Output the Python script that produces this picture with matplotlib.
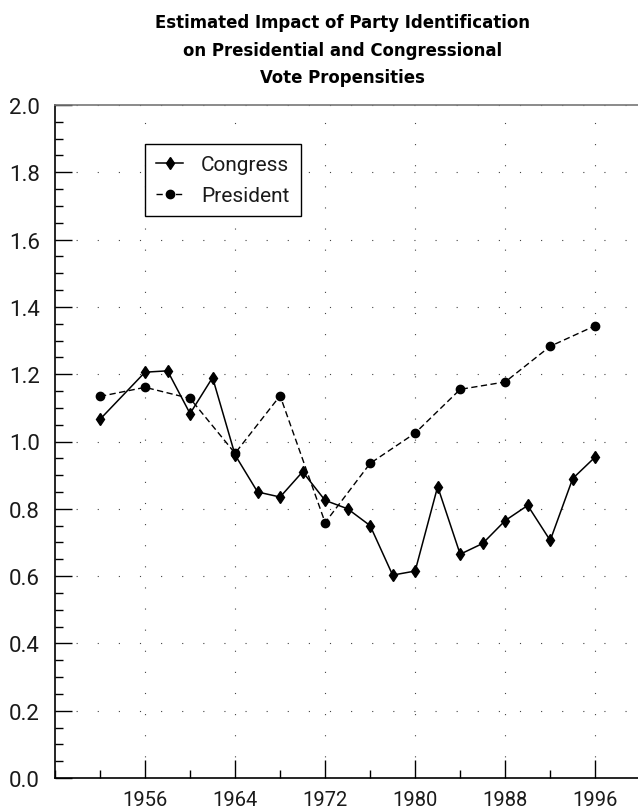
import matplotlib
matplotlib.use("Agg")
import matplotlib.pyplot as plt
from matplotlib.ticker import MultipleLocator

# Data
congress_years = [1952, 1956, 1958, 1960, 1962, 1964, 1966, 1968, 1970, 1972, 1974,
                  1976, 1978, 1980, 1982, 1984, 1986, 1988, 1990, 1992, 1994, 1996]
congress_vals = [1.066, 1.206, 1.21, 1.083, 1.19, 0.96, 0.85, 0.835, 0.91, 0.825, 0.80,
                 0.75, 0.603, 0.615, 0.866, 0.665, 0.697, 0.765, 0.81, 0.706, 0.89, 0.954]

president_years = [1952, 1956, 1960, 1964, 1968, 1972, 1976, 1980, 1984, 1988, 1992, 1996]
president_vals = [1.134, 1.161, 1.128, 0.965, 1.136, 0.759, 0.935, 1.025, 1.155, 1.177, 1.283, 1.344]

x_ticks = [1956, 1964, 1972, 1980, 1988, 1996]
y_ticks = [0.0, 0.2, 0.4, 0.6, 0.8, 1.0, 1.2, 1.4, 1.6, 1.8, 2.0]

title_lines = ["Estimated Impact of Party Identification",
               "on Presidential and Congressional",
               "Vote Propensities"]

plt.rcParams['font.family'] = ['Roboto', 'DejaVu Sans']

fig = plt.figure(figsize=(6.38, 8.12), dpi=100)
ax = fig.add_axes([55 / 638, 1 - 779 / 812, 1 - 55 / 638, (779 - 106) / 812])

ax.plot(congress_years, congress_vals, color='black', lw=1.1, marker='d',
        ms=6.2, mew=1, label='Congress', zorder=3)
ax.plot(president_years, president_vals, color='black', lw=1.0, dashes=(4.5, 2.5),
        marker='o', ms=6.0, label='President', zorder=3)

ax.set_xlim(1948, 1999.8)
ax.set_ylim(0, 2.0)
ax.set_xticks(x_ticks)
ax.xaxis.set_minor_locator(MultipleLocator(4))
ax.set_yticks(y_ticks)
ax.set_yticklabels([f"{v:.1f}" for v in y_ticks])
ax.yaxis.set_minor_locator(MultipleLocator(0.05))

ax.tick_params(which='major', direction='in', length=12, width=1,
               colors='black', labelcolor='#1a1a1a')
ax.tick_params(axis='y', which='major', pad=11, labelsize=16)
ax.tick_params(axis='x', which='major', pad=9, length=13, labelsize=14.5)
ax.tick_params(which='minor', direction='in', length=6, width=1)

ax.grid(True, which='major', color='#444444', lw=0.8, linestyle=(0, (1, 18)))

ax.spines['right'].set_visible(False)
ax.spines['top'].set_color('#777777')
ax.spines['top'].set_linewidth(1.2)
ax.spines['left'].set_linewidth(1.2)
ax.spines['bottom'].set_linewidth(1.2)

leg = ax.legend(loc='upper left', bbox_to_anchor=(0.154, 0.942), borderaxespad=0,
                fancybox=False, framealpha=1, edgecolor='black', fontsize=15,
                handlelength=1.3, handletextpad=0.85, labelspacing=0.55,
                borderpad=0.55)
leg.get_frame().set_linewidth(1.0)
for t in leg.get_texts():
    t.set_color('#1a1a1a')

# title, one line at a time, condensed bold
for i, line in enumerate(title_lines):
    fig.text(0.537, 1 - (28 + 27.5 * i) / 812, line, ha='center', va='baseline',
             fontsize=13.2, fontweight='bold', fontstretch='condensed',
             family=['DejaVu Sans'])

fig.savefig("out.png", dpi=100)
